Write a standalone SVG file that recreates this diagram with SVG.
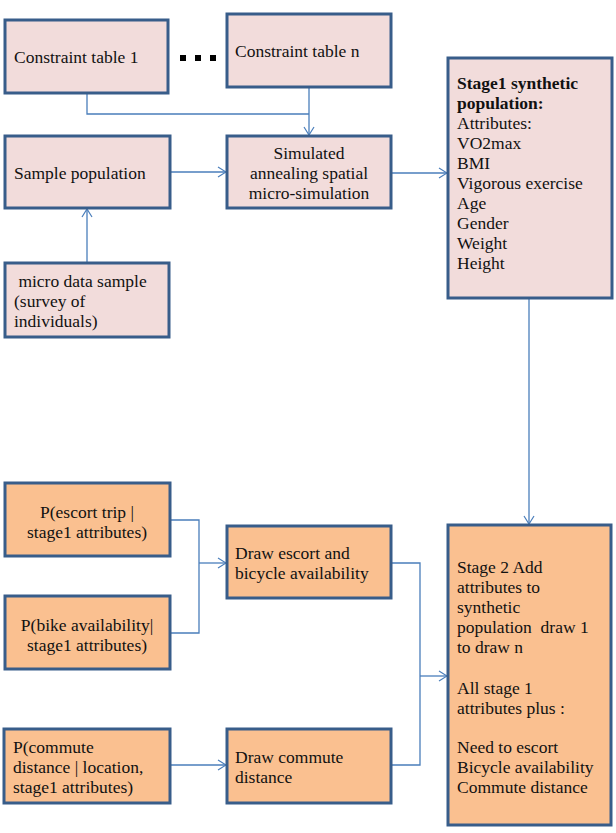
<svg xmlns="http://www.w3.org/2000/svg" width="616" height="833" viewBox="0 0 616 833">
<style>
.pink{fill:#f2dcdb;stroke:#385d8a;stroke-width:3}
.orange{fill:#fac090;stroke:#385d8a;stroke-width:3}
text{font-family:"Liberation Serif","Times New Roman",serif;font-size:17.5px;fill:#111}
.c{text-anchor:middle}
.b{font-weight:bold}
.conn{fill:none;stroke:#4a7ebb;stroke-width:1.3}
</style>
<defs>
<marker id="ah" markerWidth="10" markerHeight="12" refX="9" refY="6" orient="auto" markerUnits="userSpaceOnUse">
<path d="M1,1 L9,6 L1,11" fill="none" stroke="#4a7ebb" stroke-width="1.2"/>
</marker>
</defs>
<rect width="616" height="833" fill="#fff"/>
<g id="connectors">
<path class="conn" d="M87,93 V114 H309"/>
<path class="conn" d="M309,87 V135" marker-end="url(#ah)"/>
<path class="conn" d="M170,172 H226" marker-end="url(#ah)"/>
<path class="conn" d="M391,173 H447" marker-end="url(#ah)"/>
<path class="conn" d="M87,263 V209" marker-end="url(#ah)"/>
<path class="conn" d="M529,298 V524" marker-end="url(#ah)"/>
<path class="conn" d="M170,520 H199 V633 H170"/>
<path class="conn" d="M199,563 H226" marker-end="url(#ah)"/>
<path class="conn" d="M391,563 H420 V765 H391"/>
<path class="conn" d="M420,676 H447" marker-end="url(#ah)"/>
<path class="conn" d="M170,765 H226" marker-end="url(#ah)"/>
</g>
<g id="dots" fill="#000">
<rect x="180" y="55" width="6" height="6"/>
<rect x="195" y="55" width="6" height="6"/>
<rect x="210" y="55" width="6" height="6"/>
</g>
<g id="constraint1"><rect class="pink" x="5" y="20" width="163" height="73"/><text x="14" y="63">Constraint table 1</text></g>
<g id="constraintn"><rect class="pink" x="227" y="14" width="164" height="73"/><text x="235" y="57">Constraint table n</text></g>
<g id="sample"><rect class="pink" x="5" y="136" width="165" height="72"/><text x="14" y="179">Sample population</text></g>
<g id="simulated"><rect class="pink" x="227" y="136" width="164" height="72"/>
<text class="c" x="309" y="159">Simulated</text><text class="c" x="309" y="179">annealing spatial</text><text class="c" x="309" y="199">micro-simulation</text></g>
<g id="micro"><rect class="pink" x="5" y="263" width="164" height="74"/>
<text x="14" y="287" style="white-space:pre"> micro data sample</text><text x="14" y="307">(survey of</text><text x="14" y="327">individuals)</text></g>
<g id="stage1"><rect class="pink" x="448" y="58" width="164" height="240"/>
<text x="457" y="89" class="b">Stage1 synthetic</text>
<text x="457" y="109" class="b">population:</text>
<text x="457" y="129">Attributes:</text>
<text x="457" y="149">VO2max</text>
<text x="457" y="169">BMI</text>
<text x="457" y="189">Vigorous exercise</text>
<text x="457" y="209">Age</text>
<text x="457" y="229">Gender</text>
<text x="457" y="249">Weight</text>
<text x="457" y="269">Height</text></g>
<g id="pescort"><rect class="orange" x="5" y="483" width="165" height="73"/>
<text class="c" x="87" y="518">P(escort trip |</text><text class="c" x="87" y="538">stage1 attributes)</text></g>
<g id="pbike"><rect class="orange" x="5" y="596" width="165" height="73"/>
<text class="c" x="87" y="631">P(bike availability|</text><text class="c" x="87" y="651">stage1 attributes)</text></g>
<g id="drawescort"><rect class="orange" x="227" y="526" width="164" height="72"/>
<text x="235" y="559">Draw escort and</text><text x="235" y="579">bicycle availability</text></g>
<g id="pcommute"><rect class="orange" x="4" y="729" width="166" height="74"/>
<text x="13" y="753">P(commute</text><text x="13" y="773">distance | location,</text><text x="13" y="793">stage1 attributes)</text></g>
<g id="drawcommute"><rect class="orange" x="227" y="729" width="164" height="74"/>
<text x="235" y="763">Draw commute</text><text x="235" y="783">distance</text></g>
<g id="stage2"><rect class="orange" x="448" y="525" width="163" height="300"/>
<text x="457" y="573">Stage 2 Add</text>
<text x="457" y="593">attributes to</text>
<text x="457" y="613">synthetic</text>
<text x="457" y="633" style="white-space:pre">population  draw 1</text>
<text x="457" y="653">to draw n</text>
<text x="457" y="694">All stage 1</text>
<text x="457" y="714">attributes plus :</text>
<text x="457" y="753">Need to escort</text>
<text x="457" y="773">Bicycle availability</text>
<text x="457" y="793">Commute distance</text></g>
</svg>
